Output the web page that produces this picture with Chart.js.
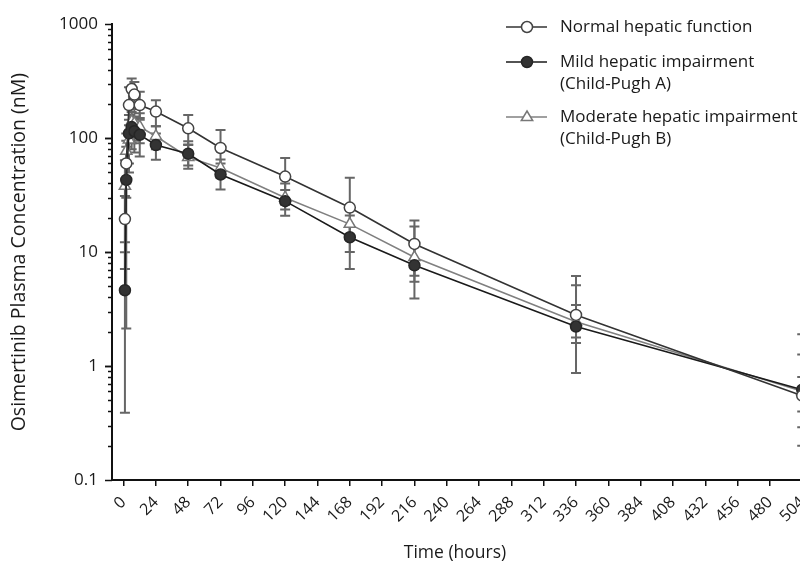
<!DOCTYPE html>
<html><head><meta charset="utf-8">
<script src="https://cdn.jsdelivr.net/npm/chart.js@4.4.1/dist/chart.umd.min.js"></script>
<style>html,body{margin:0;padding:0;background:#fff;overflow:hidden}#wrap{width:800px;height:570px;overflow:hidden;position:relative}</style>
</head><body><div id="wrap"><canvas id="c" width="830" height="570" style="width:830px;height:570px"></canvas></div>
<script>
// ---- data ----
const times = [1, 2, 4, 6, 8, 12, 24, 48, 72, 120, 168, 216, 336, 504];
const xTickLabels = [0, 24, 48, 72, 96, 120, 144, 168, 192, 216, 240, 264, 288, 312, 336, 360, 384, 408, 432, 456, 480, 504];
const yTickLabels = [0.1, 1, 10, 100, 1000];
const seriesNames = ['Normal hepatic function', 'Mild hepatic impairment', 'Moderate hepatic impairment'];
const seriesSub = ['', '(Child-Pugh A)', '(Child-Pugh B)'];

const normalMean = [19.5, 60, 195, 270, 241, 195, 171, 122, 82, 46, 24.6, 11.8, 2.81, 0.55];
const normalLow  = [7.1, 30, 130, 205, 180, 150, 127, 87, 47, 26, 7.1, 6.2, 1.59, 0.20];
const normalHigh = [31, 95, 280, 333, 311, 255, 215, 160, 118, 67, 44.9, 18.9, 6.17, 1.9];

const mildMean = [4.63, 43, 110, 125, 115, 107, 87, 73, 48, 28, 13.5, 7.65, 2.22, 0.62];
const mildLow  = [0.39, 2.14, 60, 80, 75, 69, 64.7, 57.6, 35.5, 20.8, 10, 3.91, 0.87, 0.29];
const mildHigh = [9.98, 84, 160, 170, 155, 145, 110, 88, 60, 35, 17, 11.4, 5.12, 1.26];

const modMean = [38, 77, 97, 140, 135, 126, 104, 68, 54.8, 30, 17.6, 9.0, 2.45, 0.60];
const modLow  = [12.2, 40, 50, 90, 95, 90, 80, 54, 45, 23.7, 14, 5.5, 1.78, 0.40];
const modHigh = [64, 110, 145, 190, 180, 165, 127, 93.9, 65, 40, 21, 16.8, 3.43, 0.8];

const FONT = "'Open Sans', 'DejaVu Sans', sans-serif";
const TXT = '#1a1a1a';
const toPts = (m) => times.map((t, i) => ({x: t, y: m[i]}));
const lows = [normalLow, mildLow, modLow];
const highs = [normalHigh, mildHigh, modHigh];

const errorBars = {
  id: 'errorBars',
  beforeDatasetsDraw(chart) {
    const ctx = chart.ctx, ys = chart.scales.y;
    ctx.save();
    ctx.strokeStyle = '#666';
    ctx.lineWidth = 2;
    chart.data.datasets.forEach((ds, di) => {
      const meta = chart.getDatasetMeta(di);
      meta.data.forEach((pt, j) => {
        const x = pt.x;
        const y1 = ys.getPixelForValue(lows[di][j]);
        const y2 = ys.getPixelForValue(highs[di][j]);
        ctx.beginPath();
        ctx.moveTo(x, y1); ctx.lineTo(x, y2);
        ctx.moveTo(x - 5, y1); ctx.lineTo(x + 5, y1);
        ctx.moveTo(x - 5, y2); ctx.lineTo(x + 5, y2);
        ctx.stroke();
      });
    });
    ctx.restore();
  },
  afterDraw(chart) {
    const ctx = chart.ctx, ys = chart.scales.y, area = chart.chartArea;
    ctx.save();
    // y tick marks (major and minor)
    ctx.strokeStyle = '#111';
    ctx.lineWidth = 1.5;
    for (let e = -1; e < 3; e++) {
      for (let k = 1; k <= 10; k++) {
        const v = k * Math.pow(10, e);
        const y = Math.round(ys.getPixelForValue(v)) + 0.5;
        const len = (k === 1 || k === 10) ? 7 : 4;
        ctx.beginPath();
        ctx.moveTo(area.left - len, y); ctx.lineTo(area.left, y);
        ctx.stroke();
      }
    }
    // x title
    ctx.fillStyle = TXT;
    ctx.font = '17.5px ' + FONT;
    ctx.textAlign = 'center';
    ctx.textBaseline = 'middle';
    ctx.fillText('Time (hours)', 455, 553);
    // legend
    ctx.font = '17px ' + FONT;
    const rows = [27, 62, 117];
    const styles = chart.data.datasets;
    ctx.textAlign = 'left';
    styles.forEach((ds, i) => {
      const y = rows[i];
      ctx.strokeStyle = ds.borderColor;
      ctx.lineWidth = 1.5;
      ctx.beginPath(); ctx.moveTo(506, y); ctx.lineTo(547, y); ctx.stroke();
      ctx.lineWidth = ds.pointBorderWidth;
      ctx.strokeStyle = ds.pointBorderColor;
      ctx.fillStyle = ds.pointBackgroundColor;
      ctx.beginPath();
      if (ds.pointStyle === 'triangle') {
        const r = 6;
        ctx.moveTo(527, y - r); ctx.lineTo(527 + r * 0.95, y + r * 0.6); ctx.lineTo(527 - r * 0.95, y + r * 0.6); ctx.closePath();
      } else {
        ctx.arc(527, y, 5.5, 0, Math.PI * 2);
      }
      ctx.fill(); ctx.stroke();
      ctx.fillStyle = TXT;
      ctx.fillText(seriesNames[i], 560, y);
      if (seriesSub[i]) ctx.fillText(seriesSub[i], 560, y + 22);
    });
    ctx.restore();
  }
};

new Chart(document.getElementById('c'), {
  type: 'scatter',
  data: {
    datasets: [
      {label: seriesNames[0], data: toPts(normalMean), showLine: true, borderColor: '#333', borderWidth: 1.6,
       pointStyle: 'circle', pointRadius: 5.5, pointBackgroundColor: '#fff', pointBorderColor: '#444', pointBorderWidth: 1.5},
      {label: seriesNames[1], data: toPts(mildMean), showLine: true, borderColor: '#1a1a1a', borderWidth: 1.6,
       pointStyle: 'circle', pointRadius: 5.5, pointBackgroundColor: '#333', pointBorderColor: '#262626', pointBorderWidth: 1.5},
      {label: seriesNames[2], data: toPts(modMean), showLine: true, borderColor: '#808080', borderWidth: 1.6,
       pointStyle: 'triangle', pointRadius: 6.5, pointBackgroundColor: '#fff', pointBorderColor: '#777', pointBorderWidth: 1.5}
    ]
  },
  options: {
    responsive: false,
    animation: false,
    layout: {padding: {top: 20, right: 17, bottom: 0, left: 0}},
    plugins: {legend: {display: false}, tooltip: {enabled: false}},
    scales: {
      x: {
        type: 'linear', min: -8.6, max: 512,
        afterBuildTicks: (s) => { s.ticks = xTickLabels.map(v => ({value: v})); },
        afterFit: (s) => { s.height = 90; },
        grid: {display: true, drawOnChartArea: false, drawTicks: true, tickLength: 6, color: '#111', lineWidth: 1.5},
        border: {display: true, color: '#111', width: 2},
        ticks: {autoSkip: false, maxRotation: 45, minRotation: 45, padding: 7, color: TXT,
                font: {family: FONT, size: 16}, callback: (v) => String(v)},
        title: {display: false}
      },
      y: {
        type: 'logarithmic', min: 0.1, max: 1000,
        afterBuildTicks: (s) => { s.ticks = yTickLabels.map(v => ({value: v})); },
        afterFit: (s) => { s.width = 112; },
        grid: {display: false, drawTicks: false},
        border: {display: true, color: '#111', width: 2},
        ticks: {autoSkip: false, padding: 14, color: TXT, font: {family: FONT, size: 17},
                callback: (v) => String(v)},
        title: {display: true, text: 'Osimertinib Plasma Concentration (nM)', color: TXT,
                font: {family: FONT, size: 19.5}, padding: {top: 8, bottom: 0}}
      }
    }
  },
  plugins: [errorBars]
});
</script>
</body></html>
